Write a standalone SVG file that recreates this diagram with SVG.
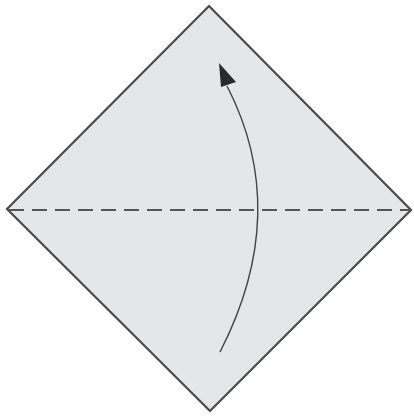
<svg xmlns="http://www.w3.org/2000/svg" width="414" height="417" viewBox="0 0 414 417">
<defs>
<style>
.paper{fill:#e5e6e8;stroke:#4a4a4a;stroke-width:2.2;stroke-linejoin:miter}
.fold{fill:none;stroke:#555;stroke-width:2;stroke-dasharray:15 8}
.arrow{fill:none;stroke:#444;stroke-width:1.4}
.head{fill:#2a2a2a}
</style>
</defs>
<rect width="414" height="417" fill="#ffffff"/>
<g id="paper">
<polygon class="paper" points="209,6 411,210 210,411 7,209"/>
</g>
<g id="connectors">
<line class="fold" x1="9" y1="210" x2="409" y2="210"/>
<path class="arrow" d="M220,352 Q292,212 227,86"/>
<polygon class="head" points="219,63 221,87 236,82"/>
</g>
</svg>
